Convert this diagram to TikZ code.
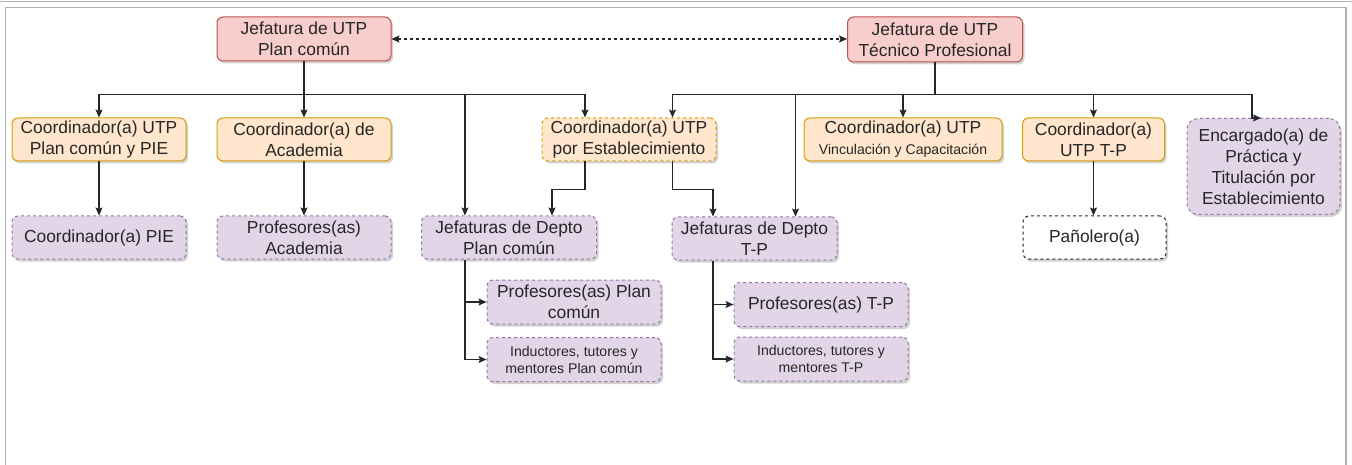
\documentclass[tikz,border=0pt]{standalone}
\usepackage{fontspec}
\setmainfont{Liberation Sans}
\usetikzlibrary{arrows.meta,shadows}
\definecolor{rojoF}{HTML}{F8CECC}
\definecolor{rojoB}{HTML}{B85450}
\definecolor{naranjaF}{HTML}{FFE6CC}
\definecolor{naranjaB}{HTML}{D79B00}
\definecolor{moradoF}{HTML}{E1D5E7}
\definecolor{moradoB}{HTML}{9673A6}
\newcommand\letrachica{\fontsize{14.1}{17}\selectfont}
\begin{document}
\begin{tikzpicture}[x=1pt,y=-1pt,>={Stealth[length=8pt,width=7pt,inset=1.5pt]},
		caja/.style={rounded corners=6pt, align=center, inner sep=0pt, minimum width=174pt, minimum height=43pt,
			text=black!85, line width=1pt, font=\fontsize{17.4}{21}\selectfont,
			drop shadow={shadow xshift=2pt,shadow yshift=-2.5pt,fill=black!35,opacity=.5}},
		jefatura/.style={caja, fill=rojoF, draw=rojoB},
		coord/.style={caja, fill=naranjaF, draw=naranjaB},
		docente/.style={caja, fill=moradoF, draw=moradoB, dash pattern=on 3pt off 3pt},
		apoyo/.style={caja, fill=white, draw=black!85, dash pattern=on 3pt off 3pt},
		conector/.style={draw=black!85, line width=1.1pt}]
	\useasboundingbox (0,0) rectangle (1352,465);
	\draw[black!30, line width=1.2pt] (0,1.5) -- (1352,1.5) (5.5,470) |- (1346,7.5) -- (1346,470);
	\node[jefatura, minimum height=44pt] (jpc) at (304,39) {Jefatura de UTP\\Plan común};
	\node[jefatura, minimum width=175pt, minimum height=45pt] (jtp) at (935,39.5) {Jefatura de UTP\\Técnico Profesional};
	\node[coord] (cpie) at (99,139.5) {Coordinador(a) UTP\\Plan común y PIE};
	\node[coord] (cacad) at (304,139.5) {Coordinador(a) de\\Academia};
	\node[coord, dash pattern=on 3pt off 3pt] (cest) at (629,139.5) {Coordinador(a) UTP\\por Establecimiento};
	\node[coord, minimum width=198pt] (cvinc) at (903,139.5) {Coordinador(a) UTP\\{\letrachica Vinculación y Capacitación}};
	\node[coord, minimum width=142pt] (ctp) at (1093.5,139.5) {Coordinador(a)\\UTP T-P};
	\node[docente, minimum width=153pt, minimum height=96pt, rounded corners=11pt] (encp) at (1263.5,166.5) {Encargado(a) de\\Práctica y\\Titulación por\\Establecimiento};
	\node[docente] (pie) at (99,237.5) {Coordinador(a) PIE};
	\node[docente] (pacad) at (304,237.5) {Profesores(as)\\Academia};
	\node[docente, minimum width=175pt] (dpc) at (509,237.5) {Jefaturas de Depto\\Plan común};
	\node[docente, minimum width=165pt] (dtp) at (754.5,238.5) {Jefaturas de Depto\\T-P};
	\node[apoyo, minimum width=143pt] (panol) at (1094.5,237.5) {Pañolero(a)};
	\node[docente, minimum height=44pt] (ppc) at (574,302) {Profesores(as) Plan\\común};
	\node[docente, minimum height=44pt, font=\letrachica] (ipc) at (574,359.5) {Inductores, tutores y\\mentores Plan común};
	\node[docente, minimum height=44pt] (ptp) at (821,304.5) {Profesores(as) T-P};
	\node[docente, minimum height=44pt, font=\letrachica] (itp) at (821,359) {Inductores, tutores y\\mentores T-P};
	\draw[conector, <->, dash pattern=on 3pt off 3pt] (jpc.east) -- (jpc.east -| jtp.west);
	\draw[conector, ->] (jpc.south) -- ++(0,33) -| (cpie.north);
	\draw[conector, ->] (jpc) -- (cacad);
	\draw[conector, ->] (jpc.south) -- ++(0,33) -| ([xshift=-44pt]dpc.north);
	\draw[conector, ->] (jpc.south) -- ++(0,33) -| ([xshift=-44pt]cest.north);
	\draw[conector, ->] (jtp.south) -- ++(0,32) -| ([xshift=43.5pt]cest.north);
	\draw[conector, ->] (jtp.south) -- ++(0,32) -| ([xshift=41pt]dtp.north);
	\draw[conector, ->] (jtp.south) -- ++(0,32) -| (cvinc.north);
	\draw[conector, ->] (jtp.south) -- ++(0,32) -| (ctp.north);
	\draw[conector, ->] (jtp.south) -- ++(0,32) -| ([xshift=-11.5pt]encp.north) -- ++(9,0);
	\draw[conector, ->] ([xshift=-44pt]cest.south) -- ++(0,28) -| ([xshift=43pt]dpc.north);
	\draw[conector, ->] ([xshift=43.5pt]cest.south) -- ++(0,28) -| ([xshift=-41.5pt]dtp.north);
	\draw[conector, ->] (cpie) -- (pie);
	\draw[conector, ->] (cacad) -- (pacad);
	\draw[conector, ->] (ctp.south) -- (ctp.south |- panol.north);
	\draw[conector, ->] ([xshift=-44pt]dpc.south) |- (ppc);
	\draw[conector, ->] ([xshift=-44pt]dpc.south) |- (ipc);
	\draw[conector, ->] ([xshift=-41.5pt]dtp.south) |- (ptp);
	\draw[conector, ->] ([xshift=-41.5pt]dtp.south) |- (itp);
\end{tikzpicture}
\end{document}
